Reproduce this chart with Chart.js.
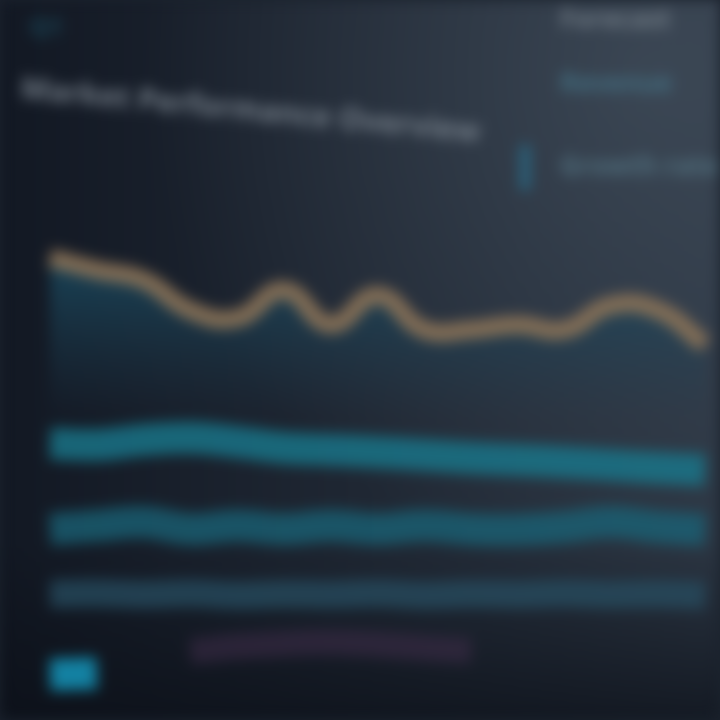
<!DOCTYPE html>
<html><head><meta charset="utf-8">
<script src="https://cdn.jsdelivr.net/npm/chart.js@4.4.1/dist/chart.umd.min.js"></script>
<style>
html,body{margin:0;padding:0;background:#1b222d;overflow:hidden}
#wrap{width:720px;height:720px;position:relative}
canvas{filter:blur(7px)}
</style></head>
<body><div id="wrap"><canvas id="c" width="720" height="720"></canvas></div>
<script>
// Data (values on a 0-100 scale)
const periods = ['1','2','3','4','5','6','7','8','9','10','11','12','13','14','15'];
const trendValues = [64.2, 62.5, 61.1, 56.9, 55.8, 59.7, 54.9, 59.0, 54.2, 54.2, 54.9, 54.2, 57.6, 56.9, 52.1];
const band1Values = [38.4, 38.2, 38.9, 39.2, 38.6, 37.8, 37.5, 37.2, 36.8, 36.4, 36.1, 35.8, 35.4, 35.0, 34.7];
const band2Values = [26.5, 27.0, 27.5, 26.5, 27.0, 26.5, 27.0, 26.5, 27.0, 26.5, 26.4, 26.8, 27.5, 26.8, 26.4];
const band3Values = [17.5, 17.6, 17.4, 17.6, 17.3, 17.5, 17.4, 17.6, 17.3, 17.5, 17.4, 17.6, 17.4, 17.5, 17.3];
const baseValues  = [6.3, 6.5, null, null, null, null, null, null, null, null, null, null, null, null, null];
const lowValues   = [null, null, null, 9.5, 10.2, 10.6, 10.8, 10.5, 10.0, 9.6, null, null, null, null, null];
// PLACEHOLDER TEXT: the reference image's text is blurred beyond reading.
// These words are stand-ins that imitate the shape of the blurred text blocks;
// they are NOT transcriptions of the original labels.
const titleText = 'Market Performance Overview';
const legendTexts = ['Forecast', 'Revenue', 'Growth rate'];
const cornerText = 'Q1';

const bgPlugin = {
  id: 'bg',
  beforeDraw(chart) {
    const {ctx, width, height} = chart;
    ctx.save();
    let g = ctx.createLinearGradient(0, 0, width, 0);
    g.addColorStop(0, '#121823');
    g.addColorStop(0.5, '#1f2733');
    g.addColorStop(1, '#2c3643');
    ctx.fillStyle = g;
    ctx.fillRect(0, 0, width, height);
    let r = ctx.createRadialGradient(width * 0.9, height * 0.1, 10, width * 0.9, height * 0.1, width * 0.7);
    r.addColorStop(0, 'rgba(90,105,120,0.35)');
    r.addColorStop(1, 'rgba(90,105,120,0)');
    ctx.fillStyle = r;
    ctx.fillRect(0, 0, width, height);
    let v = ctx.createLinearGradient(0, 0, 0, height);
    v.addColorStop(0.75, 'rgba(10,14,22,0)');
    v.addColorStop(1, 'rgba(10,14,22,0.7)');
    ctx.fillStyle = v;
    ctx.fillRect(0, 0, width, height);
    ctx.restore();
  }
};

const textPlugin = {
  id: 'texts',
  afterDraw(chart) {
    const {ctx} = chart;
    ctx.save();
    ctx.font = 'bold 30px "Open Sans", sans-serif';
    ctx.fillStyle = 'rgba(125,135,145,0.9)';
    ctx.translate(20, 98);
    ctx.rotate(0.095);
    ctx.fillText(titleText, 0, 0);
    ctx.restore();

    ctx.save();
    ctx.font = 'bold 26px "Open Sans", sans-serif';
    ctx.fillStyle = 'rgba(130,140,150,0.75)';
    ctx.fillText(legendTexts[0], 560, 28);
    ctx.fillStyle = 'rgba(70,120,140,0.8)';
    ctx.fillText(legendTexts[1], 560, 92);
    ctx.fillStyle = 'rgba(40,110,140,0.8)';
    ctx.fillRect(520, 145, 10, 45);
    ctx.fillStyle = 'rgba(90,125,140,0.75)';
    ctx.fillText(legendTexts[2], 560, 175);
    ctx.fillStyle = 'rgba(30,90,110,0.7)';
    ctx.font = 'bold 24px "Open Sans", sans-serif';
    ctx.fillText(cornerText, 30, 35);
    ctx.restore();
  }
};

function trendFill(context) {
  const ca = context.chart.chartArea;
  if (!ca) return 'rgba(30,70,90,0.4)';
  const g = context.chart.ctx.createLinearGradient(0, ca.top + 260, 0, ca.top + 420);
  g.addColorStop(0, 'rgba(26,76,98,0.8)');
  g.addColorStop(1, 'rgba(28,60,80,0)');
  return g;
}

new Chart(document.getElementById('c'), {
  type: 'line',
  data: {
    labels: periods,
    datasets: [
      {label: 'Trend', data: trendValues, borderColor: 'rgba(140,115,88,0.9)', borderWidth: 18,
       backgroundColor: trendFill, fill: 'origin', tension: 0.45, pointRadius: 0, order: 5},
      {label: 'Band 1', data: band1Values, borderColor: 'rgba(25,120,140,0.8)', borderWidth: 32,
       tension: 0.4, pointRadius: 0, fill: false, order: 1},
      {label: 'Band 2', data: band2Values, borderColor: 'rgba(25,100,120,0.75)', borderWidth: 32,
       tension: 0.4, pointRadius: 0, fill: false, order: 2},
      {label: 'Band 3', data: band3Values, borderColor: 'rgba(40,80,100,0.7)', borderWidth: 28,
       tension: 0.4, pointRadius: 0, fill: false, order: 3},
      {label: 'Base', data: baseValues, borderColor: 'rgba(20,135,170,0.95)', borderWidth: 32,
       tension: 0.3, pointRadius: 0, fill: false, spanGaps: false, order: 0},
      {label: 'Low', data: lowValues, borderColor: 'rgba(65,45,75,0.5)', borderWidth: 26,
       tension: 0.4, pointRadius: 0, fill: false, spanGaps: false, order: 4}
    ]
  },
  options: {
    responsive: false,
    devicePixelRatio: 1,
    animation: false,
    layout: {padding: {left: 50, right: 15, top: 0, bottom: 0}},
    plugins: {legend: {display: false}, tooltip: {enabled: false}, title: {display: false}},
    scales: {
      x: {display: false, offset: false},
      y: {display: false, min: 0, max: 100}
    }
  },
  plugins: [bgPlugin, textPlugin]
});
</script>
</body></html>
